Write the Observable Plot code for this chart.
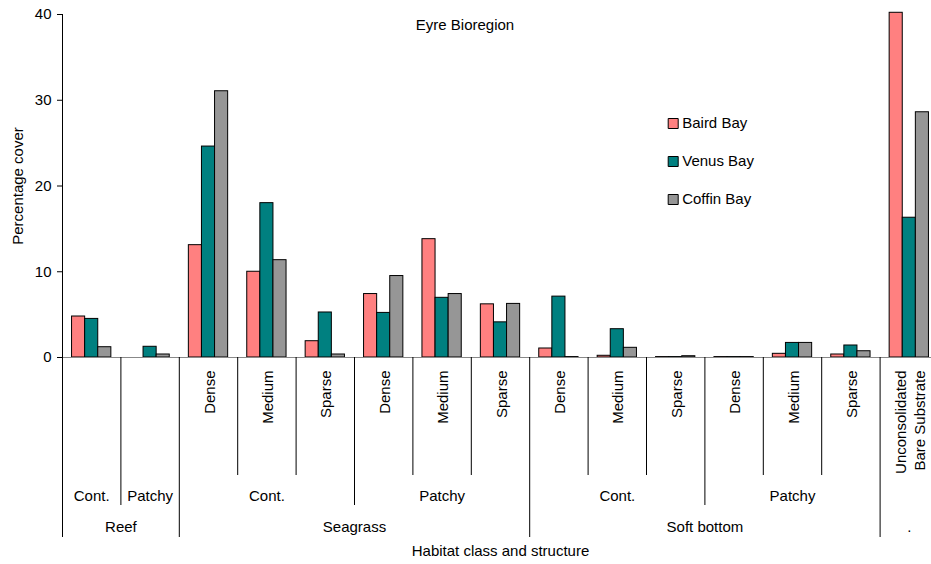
<!DOCTYPE html>
<html>
<head>
<meta charset="utf-8">
<script src="https://cdn.jsdelivr.net/npm/d3@7"></script>
<script src="https://cdn.jsdelivr.net/npm/@observablehq/plot@0.6"></script>
<style>
  html, body { margin: 0; padding: 0; background: #fff; }
  #chart svg { display: block; }
</style>
</head>
<body>
<div id="chart"></div>
<script>
// ---- Data ----
const level1 = ["", "", "Dense", "Medium", "Sparse", "Dense", "Medium", "Sparse",
  "Dense", "Medium", "Sparse", "Dense", "Medium", "Sparse", "Unconsolidated\nBare Substrate"];
const level2 = ["Cont.", "Patchy", "Cont.", "Cont.", "Cont.", "Patchy", "Patchy", "Patchy",
  "Cont.", "Cont.", "Cont.", "Patchy", "Patchy", "Patchy", ""];
const level3 = ["Reef", "Reef", "Seagrass", "Seagrass", "Seagrass", "Seagrass", "Seagrass", "Seagrass",
  "Soft bottom", "Soft bottom", "Soft bottom", "Soft bottom", "Soft bottom", "Soft bottom", "."];
const seriesNames = ["Baird Bay", "Venus Bay", "Coffin Bay"];
const seriesColors = ["#FF8080", "#008080", "#969696"];
const baird  = [4.78, 0,    13.1, 10.0, 1.9,  7.4, 13.8, 6.2,  1.05, 0.2,  0.05, 0.05, 0.43, 0.35, 40.2];
const venus  = [4.5,  1.25, 24.6, 18.0, 5.25, 5.2, 6.96, 4.1,  7.1,  3.3,  0.05, 0.05, 1.7,  1.4,  16.3];
const coffin = [1.2,  0.35, 31.05, 11.35, 0.35, 9.5, 7.4, 6.25, 0.05, 1.13, 0.15, 0.05, 1.7, 0.73, 28.6];
const yTicks = [0, 10, 20, 30, 40];
const chartTitle = "Eyre Bioregion";
const yLabel = "Percentage cover";
const xLabel = "Habitat class and structure";

// ---- Derived tables ----
const seriesValues = [baird, venus, coffin];
const n = level1.length;
const barW = 0.2243;
const groupStart = (1 - 3 * barW) / 2;
const bars = [];
seriesValues.forEach((vals, s) => vals.forEach((v, i) => bars.push({i, s, name: seriesNames[s], v})));

function runs(keyFn) {
  const out = [];
  for (let i = 0; i < n; i++) {
    const k = keyFn(i);
    if (out.length && out[out.length - 1].key === k) out[out.length - 1].end = i + 1;
    else out.push({key: k, start: i, end: i + 1});
  }
  return out;
}
const runs2 = runs(i => level3[i] + "|" + level2[i]).map(r => ({...r, label: level2[r.start]}));
const runs3 = runs(i => level3[i]).map(r => ({...r, label: level3[r.start]}));

const seps = [];
for (let b = 0; b <= n; b++) {
  let depth;
  if (b === 0 || b === n || level3[b] !== level3[b - 1]) depth = 180;
  else if (level2[b] !== level2[b - 1]) depth = 148;
  else depth = 118;
  seps.push({b, depth});
}

const font = "Liberation Sans, Arial, Helvetica, sans-serif";
const fs = 15;

const marks = [
  Plot.rectY(bars, {
    x1: d => d.i + groupStart + d.s * barW,
    x2: d => d.i + groupStart + (d.s + 1) * barW,
    y1: 0, y2: "v",
    fill: d => seriesColors[d.s],
    stroke: "#000", strokeWidth: 1
  }),
  Plot.ruleY([0], {stroke: "#888", strokeWidth: 1}),
  Plot.ruleX([0], {stroke: "#000", strokeWidth: 1}),
  Plot.axisY({ticks: yTicks, tickSize: 5, tickPadding: 6, label: null, fontSize: fs, stroke: "#000", fill: "#000"}),
  ...[118, 148, 180].map(depth => Plot.ruleX(seps.filter(d => d.depth === depth), {
    x: "b", y1: 0, y2: 0, insetBottom: -depth, stroke: "#000", strokeWidth: 1
  })),
  Plot.text(level1.map((t, i) => ({t, i})).filter(d => d.t), {
    x: d => d.i + 0.5, y: 0, text: "t", rotate: -90, textAnchor: "end", lineAnchor: "middle",
    lineHeight: 1.27, dy: 13, fontSize: fs, fill: "#000"
  }),
  Plot.text(runs2.filter(d => d.label), {
    x: d => (d.start + d.end) / 2, y: 0, text: "label", lineAnchor: "middle", dy: 139, fontSize: fs, fill: "#000"
  }),
  Plot.text(runs3, {
    x: d => (d.start + d.end) / 2, y: 0, text: "label", lineAnchor: "middle", dy: 170, fontSize: fs, fill: "#000"
  }),
  Plot.text([xLabel], {x: n / 2, y: 0, text: d => d, lineAnchor: "middle", dy: 194, fontSize: fs, fill: "#000"}),
  Plot.text([yLabel], {frameAnchor: "left", text: d => d, rotate: -90, textAnchor: "middle", lineAnchor: "middle", dx: -44, fontSize: fs, fill: "#000"}),
  Plot.text([chartTitle], {frameAnchor: "top", text: d => d, textAnchor: "middle", lineAnchor: "middle", dx: -32, dy: 11, fontSize: fs, fill: "#000"}),
  ...seriesNames.flatMap((name, i) => [
    Plot.dot([name], {frameAnchor: "top-left", symbol: "square", r: Math.sqrt(100 / Math.PI),
      fill: seriesColors[i], stroke: "#000", strokeWidth: 1, dx: 610.7, dy: 109 + i * 38}),
    Plot.text([name], {frameAnchor: "top-left", text: d => d, textAnchor: "start", lineAnchor: "middle",
      dx: 619.7, dy: 109 + i * 38, fontSize: fs, fill: "#000"})
  ])
];

const chart = Plot.plot({
  width: 931,
  height: 564,
  marginLeft: 62,
  marginRight: 0,
  marginTop: 14,
  marginBottom: 207,
  style: {fontFamily: font, fontSize: fs + "px", color: "#000", background: "#fff"},
  x: {type: "linear", domain: [0, n], range: [62, 938], axis: null},
  y: {domain: [0, 40], range: [357, 14], axis: null},
  marks
});
document.getElementById("chart").appendChild(chart);
</script>
</body>
</html>
